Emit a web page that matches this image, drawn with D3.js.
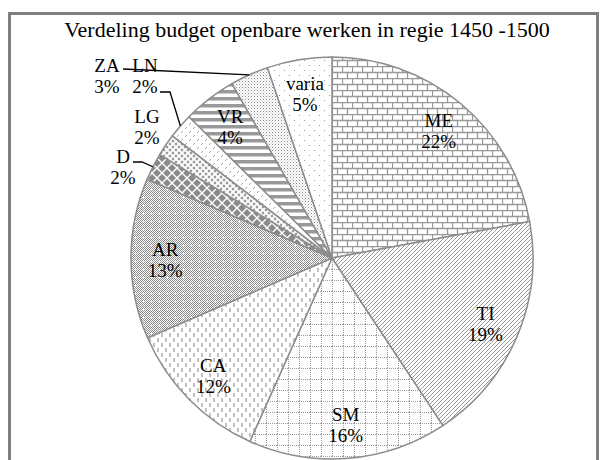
<!DOCTYPE html>
<html>
<head>
<meta charset="utf-8">
<script src="https://cdn.jsdelivr.net/npm/d3@7"></script>
<style>
  body { margin: 0; background: #fff; }
  svg { display: block; }
  text { font-family: "Liberation Serif", "Times New Roman", serif; fill: #000; }
</style>
</head>
<body>
<svg id="pie" width="606" height="460"></svg>
<script>
// data (share of budget, %)
var categories = ["ME", "TI", "SM", "CA", "AR", "D", "LG", "LN", "VR", "ZA", "varia"];
var shares     = [22.1, 18.6, 16.0, 11.8, 12.9, 2.2, 1.8, 2.0, 4.3, 3.1, 5.2];
var shareLabels = ["22%", "19%", "16%", "12%", "13%", "2%", "2%", "2%", "4%", "3%", "5%"];
var title = "Verdeling budget openbare werken in regie 1450 -1500";

// labels that sit outside the pie (placed by hand in the original)
var outside = {
    ZA: { x: 107, y: 72, from: [[123, 69]] },
    LN: { x: 145, y: 72, from: [[160, 92], [170, 92]] },
    LG: { x: 147, y: 123, from: null },
    D:  { x: 123, y: 163, from: [[133, 162], [142, 162]] }
};

var svg = d3.select("svg#pie"),
    cx = 332, cy = 258, radius = 201,
    grey = "#8c8c8c",
    fontSize = "19px";

var defs = svg.append("defs");

function pattern(id, w, h) {
    var p = defs.append("pattern")
        .attr("id", id)
        .attr("patternUnits", "userSpaceOnUse")
        .attr("width", w).attr("height", h);
    p.append("rect").attr("width", w).attr("height", h).attr("fill", "#fff");
    return p;
}

// ME - bricks
var p = pattern("p-ME", 10, 12);
p.append("path").attr("d", "M0,0.5H10M0,6.5H10M0.5,0V6.5M5.5,6.5V12")
    .attr("stroke", "#999").attr("stroke-width", 1.3).attr("fill", "none");

// TI - fine diagonal hatch
p = pattern("p-TI", 4, 4);
p.append("path").attr("d", "M-1,1L1,-1M0,4L4,0M3,5L5,3")
    .attr("stroke", "#999").attr("stroke-width", 1).attr("fill", "none");

// SM - dotted grid
p = pattern("p-SM", 11, 11);
p.append("path").attr("d", "M0,0.5H11M0.5,0V11")
    .attr("stroke", "#999").attr("stroke-width", 1).attr("stroke-dasharray", "1,1").attr("fill", "none");

// CA - staggered vertical dashes
p = pattern("p-CA", 8, 10);
p.append("path").attr("d", "M2,0V4M6,5V9")
    .attr("stroke", "#999").attr("stroke-width", 1.2).attr("fill", "none");

// AR - grey dither with small white crosses
p = pattern("p-AR", 8, 8);
for (var i = 0; i < 8; i++) for (var j = 0; j < 8; j++) {
    if ((i + j) % 2 === 0) p.append("rect").attr("x", i).attr("y", j).attr("width", 1).attr("height", 1).attr("fill", "#8a8a8a");
}
p.append("rect").attr("x", 2).attr("y", 3).attr("width", 3).attr("height", 1).attr("fill", "#fff");
p.append("rect").attr("x", 3).attr("y", 2).attr("width", 1).attr("height", 3).attr("fill", "#fff");

// D - grey diamonds
p = pattern("p-D", 10, 10);
p.append("path").attr("d", "M5,1L9,5L5,9L1,5ZM0,-4L4,0L0,4L-4,0ZM10,-4L14,0L10,4L6,0ZM0,6L4,10L0,14L-4,10ZM10,6L14,10L10,14L6,10Z")
    .attr("fill", "#8a8a8a");

// LG - small diamonds
p = pattern("p-LG", 6, 6);
p.append("path").attr("d", "M3,1.3L4.7,3L3,4.7L1.3,3ZM0,-1.7L1.7,0L0,1.7L-1.7,0ZM6,-1.7L7.7,0L6,1.7L4.3,0ZM0,4.3L1.7,6L0,7.7L-1.7,6ZM6,4.3L7.7,6L6,7.7L4.3,6Z")
    .attr("fill", "#999");

// LN - sparse small ticks
p = pattern("p-LN", 8, 8);
p.append("path").attr("d", "M1,3L3,1M5,7L7,5")
    .attr("stroke", "#aaa").attr("stroke-width", 1).attr("fill", "none");

// VR - thick horizontal stripes
p = pattern("p-VR", 7, 7);
p.append("rect").attr("y", 0).attr("width", 7).attr("height", 3.5).attr("fill", "#999");

// ZA - fine dots
p = pattern("p-ZA", 3, 3);
p.append("rect").attr("width", 1).attr("height", 1).attr("fill", "#8a8a8a");
p.append("rect").attr("x", 1.5).attr("y", 1.5).attr("width", 1).attr("height", 1).attr("fill", "#b5b5b5");

// varia - sparse dots
p = pattern("p-varia", 10, 10);
p.append("rect").attr("x", 2).attr("y", 2).attr("width", 1).attr("height", 1).attr("fill", "#999");
p.append("rect").attr("x", 7).attr("y", 7).attr("width", 1).attr("height", 1).attr("fill", "#999");

// frame
svg.append("rect")
    .attr("x", 9.5).attr("y", 13.5)
    .attr("width", 588).attr("height", 500)
    .attr("fill", "none")
    .attr("stroke", "#808080")
    .attr("stroke-width", 3);

svg.append("text")
    .attr("x", 307)
    .attr("y", 37)
    .attr("text-anchor", "middle")
    .style("font-size", "22px")
    .text(title);

var data = categories.map(function (c, i) { return { key: c, value: shares[i], label: shareLabels[i] }; });

var pie = d3.pie().sort(null).value(function (d) { return d.value; });
var arc = d3.arc().innerRadius(0).outerRadius(radius);
var labelArc = d3.arc().innerRadius(radius * 0.83).outerRadius(radius * 0.83);
var edgeArc = d3.arc().innerRadius(radius).outerRadius(radius);

var g = svg.append("g").attr("transform", "translate(" + cx + "," + cy + ")");
var arcs = pie(data);

g.selectAll("path.slice")
    .data(arcs)
    .enter().append("path")
    .attr("class", "slice")
    .attr("d", arc)
    .attr("fill", function (d) { return "url(#p-" + d.data.key + ")"; })
    .attr("stroke", grey)
    .attr("stroke-width", 1.5)
    .attr("stroke-linejoin", "round");

// inside labels
var inside = arcs.filter(function (d) { return !outside[d.data.key]; });
var lab = g.selectAll("g.lab")
    .data(inside)
    .enter().append("g")
    .attr("class", "lab")
    .attr("transform", function (d) { return "translate(" + labelArc.centroid(d) + ")"; });
lab.append("text").attr("text-anchor", "middle").attr("y", -3).style("font-size", fontSize)
    .text(function (d) { return d.data.key; });
lab.append("text").attr("text-anchor", "middle").attr("y", 18).style("font-size", fontSize)
    .text(function (d) { return d.data.label; });

// outside labels with leader lines
arcs.filter(function (d) { return outside[d.data.key]; }).forEach(function (d) {
    var o = outside[d.data.key];
    svg.append("text").attr("x", o.x).attr("y", o.y).attr("text-anchor", "middle")
        .style("font-size", fontSize).text(d.data.key);
    svg.append("text").attr("x", o.x).attr("y", o.y + 21).attr("text-anchor", "middle")
        .style("font-size", fontSize).text(d.data.label);
    if (o.from) {
        var end = edgeArc.centroid(d);
        var pts = o.from.concat([[cx + end[0], cy + end[1]]]);
        svg.append("path")
            .attr("d", d3.line()(pts))
            .attr("fill", "none")
            .attr("stroke", "#000")
            .attr("stroke-width", 1.3);
    }
});
</script>
</body>
</html>
